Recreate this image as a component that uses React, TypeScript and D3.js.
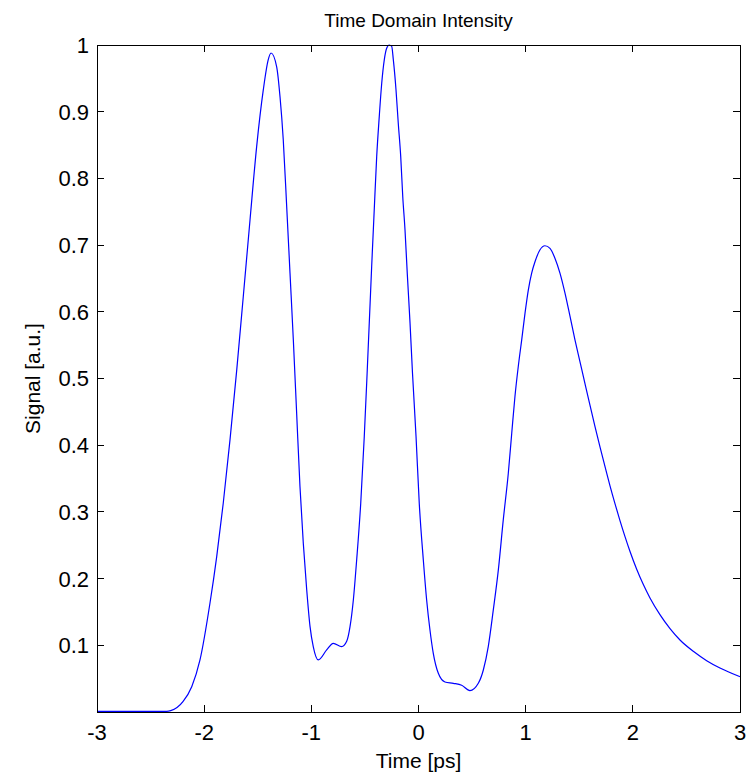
import React from "react";
import * as d3 from "d3";

const timePs = [
  -3, -2.7, -2.5, -2.35, -2.312, -2.198, -2.116, -2.039, -1.946, -1.883, -1.822, -1.759, -1.696,
  -1.635, -1.572, -1.51, -1.448, -1.402, -1.376, -1.323, -1.292, -1.262, -1.23, -1.199,
  -1.168, -1.137, -1.106, -1.075, -1.043, -1.012, -0.982, -0.935, -0.857, -0.795, -0.717,
  -0.67, -0.639, -0.608, -0.577, -0.539, -0.506, -0.478, -0.437, -0.413, -0.39, -0.366,
  -0.343, -0.319, -0.297, -0.273, -0.25, -0.235, -0.21, -0.189, -0.166, -0.147, -0.126,
  -0.105, -0.079, -0.056, -0.023, 0.007, 0.045, 0.076, 0.107, 0.138, 0.185, 0.247, 0.325,
  0.403, 0.48, 0.558, 0.605, 0.651, 0.698, 0.745, 0.791, 0.838, 0.87, 0.9, 0.931, 0.963,
  0.994, 1.025, 1.056, 1.087, 1.134, 1.18, 1.227, 1.274, 1.32, 1.367, 1.414, 1.46, 1.507,
  1.554, 1.6, 1.647, 1.694, 1.756, 1.787, 1.834, 1.88, 1.927, 1.973, 2.036, 2.098, 2.16,
  2.253, 2.347, 2.44, 2.564, 2.689, 2.813, 2.984, 3,
];

const signal = [
  0.001, 0.001, 0.001, 0.001, 0.002, 0.0155, 0.038, 0.078, 0.163, 0.233, 0.313, 0.408, 0.513,
  0.623, 0.738, 0.848, 0.933, 0.978, 0.988, 0.967, 0.922, 0.858, 0.758, 0.658,
  0.558, 0.448, 0.338, 0.253, 0.183, 0.128, 0.098, 0.078, 0.093, 0.103, 0.098,
  0.106, 0.128, 0.168, 0.228, 0.313, 0.413, 0.513, 0.668, 0.753, 0.833, 0.893,
  0.943, 0.978, 0.995, 1.0, 0.998, 0.978, 0.933, 0.883, 0.833, 0.773, 0.723,
  0.658, 0.583, 0.508, 0.413, 0.313, 0.228, 0.168, 0.123, 0.088, 0.058, 0.045, 0.043,
  0.04, 0.032, 0.043, 0.063, 0.098, 0.153, 0.213, 0.288, 0.358, 0.418, 0.473, 0.518, 0.558,
  0.598, 0.633, 0.658, 0.675, 0.693, 0.699, 0.695, 0.68, 0.658, 0.628, 0.593, 0.558, 0.525,
  0.492, 0.46, 0.428, 0.397, 0.358, 0.339, 0.312, 0.287, 0.263, 0.241, 0.214, 0.191, 0.171,
  0.146, 0.125, 0.108, 0.091, 0.077, 0.066, 0.054, 0.053,
];

const xTicks = [-3, -2, -1, 0, 1, 2, 3];
const yTicks = [0.1, 0.2, 0.3, 0.4, 0.5, 0.6, 0.7, 0.8, 0.9, 1];

const titleText = "Time Domain Intensity";
const xLabelText = "Time [ps]";
const yLabelText = "Signal [a.u.]";

export default function App() {
  const W = 754;
  const H = 777;
  const left = 97;
  const right = 740;
  const top = 45;
  const bottom = 712;
  const tickLen = 6.7;

  const x = d3.scaleLinear().domain([-3, 3]).range([left, right]);
  const y = d3.scaleLinear().domain([0, 1]).range([bottom, top]);

  const pts = timePs.map((t, i) => [t, signal[i]] as [number, number]);
  const line = d3
    .line<[number, number]>()
    .x((d) => x(d[0]))
    .y((d) => y(d[1]))
    .curve(d3.curveMonotoneX);

  const font = "'Liberation Sans', Arial, sans-serif";

  return (
    <svg
      width={W}
      height={H}
      style={{ position: "absolute", left: 0, top: 0, background: "#fff" }}
      fontFamily={font}
    >
      <rect x={0} y={0} width={W} height={H} fill="#fff" />
      <path d={line(pts) || ""} fill="none" stroke="#0000ff" strokeWidth={1.2} />
      <rect
        x={left}
        y={top}
        width={right - left}
        height={bottom - top}
        fill="none"
        stroke="#000"
        strokeWidth={1}
        shapeRendering="crispEdges"
      />
      {xTicks.map((t) => (
        <g key={"xt" + t}>
          <line x1={x(t)} x2={x(t)} y1={bottom} y2={bottom - tickLen} stroke="#000" shapeRendering="crispEdges" />
          <line x1={x(t)} x2={x(t)} y1={top} y2={top + tickLen} stroke="#000" shapeRendering="crispEdges" />
          <text x={x(t)} y={740} textAnchor="middle" fontSize={22} fill="#000">
            {String(t)}
          </text>
        </g>
      ))}
      {yTicks.map((v) => (
        <g key={"yt" + v}>
          <line x1={left} x2={left + tickLen} y1={y(v)} y2={y(v)} stroke="#000" shapeRendering="crispEdges" />
          <line x1={right} x2={right - tickLen} y1={y(v)} y2={y(v)} stroke="#000" shapeRendering="crispEdges" />
          <text x={89} y={y(v)} dy="0.36em" textAnchor="end" fontSize={22} fill="#000">
            {String(v)}
          </text>
        </g>
      ))}
      <text x={(left + right) / 2} y={27} textAnchor="middle" fontSize={19} fill="#000">
        {titleText}
      </text>
      <text x={(left + right) / 2} y={768} textAnchor="middle" fontSize={21} fill="#000">
        {xLabelText}
      </text>
      <text
        transform={`translate(40, ${(top + bottom) / 2}) rotate(-90)`}
        textAnchor="middle"
        fontSize={21}
        fill="#000"
      >
        {yLabelText}
      </text>
    </svg>
  );
}
